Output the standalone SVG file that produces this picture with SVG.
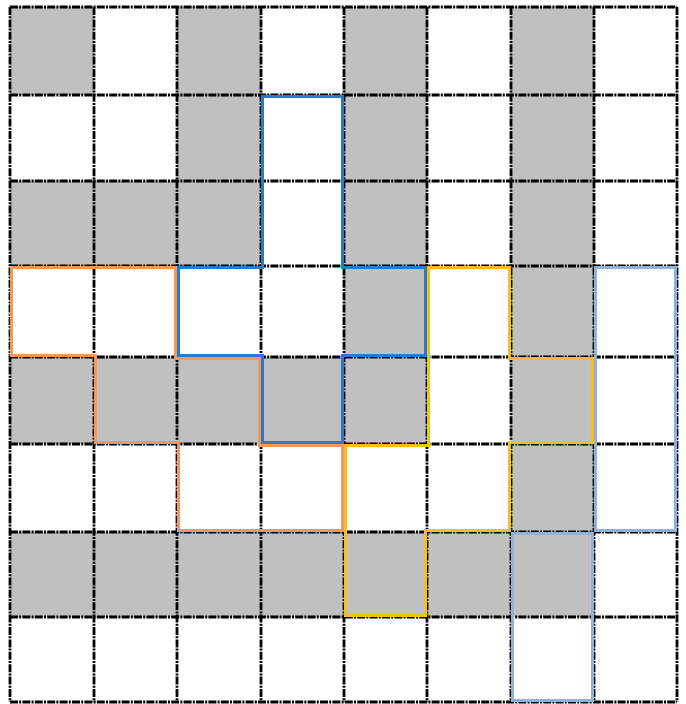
<svg xmlns="http://www.w3.org/2000/svg" width="686" height="704" viewBox="0 0 686 704">
<style>
.g{fill:#c0c0c0}
.grid{fill:none;stroke:#000;stroke-width:2.8;stroke-dasharray:8 1.2 2 1.2}
.o{fill:none;stroke-width:6;stroke-linejoin:miter}
</style>
<defs>
<polygon id="pOrange" points="10,266 177,266 177,357 261,357 261,444 344,444 344,532 177,532 177,444 94,444 94,357 10,357"/>
<polygon id="pBlue" points="261,95 344,95 344,266 427,266 427,357 344,357 344,444 261,444 261,357 177,357 177,266 261,266"/>
<polygon id="pYellow" points="427,266 511,266 511,357 594,357 594,444 511,444 511,532 427,532 427,617 344,617 344,444 427,444"/>
<polygon id="pLb1" points="594,266 677,266 677,532 594,532"/>
<polygon id="pLb2" points="511,532 594,532 594,702 511,702"/>
<clipPath id="cOrange"><use href="#pOrange"/></clipPath>
<clipPath id="cBlue"><use href="#pBlue"/></clipPath>
<clipPath id="cYellow"><use href="#pYellow"/></clipPath>
<clipPath id="cLb1"><use href="#pLb1"/></clipPath>
<clipPath id="cLb2"><use href="#pLb2"/></clipPath>
</defs>
<rect x="0" y="0" width="686" height="704" fill="#ffffff"/>
<g id="cells">
<rect class="g" x="10" y="7" width="84" height="88"/>
<rect class="g" x="177" y="7" width="84" height="88"/>
<rect class="g" x="344" y="7" width="83" height="88"/>
<rect class="g" x="511" y="7" width="83" height="88"/>
<rect class="g" x="177" y="95" width="84" height="86"/>
<rect class="g" x="344" y="95" width="83" height="86"/>
<rect class="g" x="511" y="95" width="83" height="86"/>
<rect class="g" x="10" y="181" width="251" height="85"/>
<rect class="g" x="344" y="181" width="83" height="85"/>
<rect class="g" x="511" y="181" width="83" height="85"/>
<rect class="g" x="344" y="266" width="83" height="91"/>
<rect class="g" x="511" y="266" width="83" height="91"/>
<rect class="g" x="10" y="357" width="417" height="87"/>
<rect class="g" x="511" y="357" width="83" height="87"/>
<rect class="g" x="511" y="444" width="83" height="88"/>
<rect class="g" x="10" y="532" width="584" height="85"/>
</g>
<g id="grid" class="grid">
<path d="M10,7V702M94,7V702M177,7V702M261,7V702M344,7V702M427,7V702M511,7V702M594,7V702M677,7V702"/>
<path d="M10,7H677M10,95H677M10,181H677M10,266H677M10,357H677M10,444H677M10,532H677M10,617H677M10,702H677"/>
</g>
<g id="regions">
<use href="#pYellow" class="o" stroke="#f5c01c" clip-path="url(#cYellow)"/>
<use href="#pOrange" class="o" stroke="#f0985f" clip-path="url(#cOrange)"/>
<use href="#pLb1" class="o" stroke="#8fb2d9" clip-path="url(#cLb1)"/>
<use href="#pLb2" class="o" stroke="#8fb2d9" clip-path="url(#cLb2)"/>
<use href="#pBlue" class="o" stroke="#2a7ac6" clip-path="url(#cBlue)"/>
</g>
</svg>
